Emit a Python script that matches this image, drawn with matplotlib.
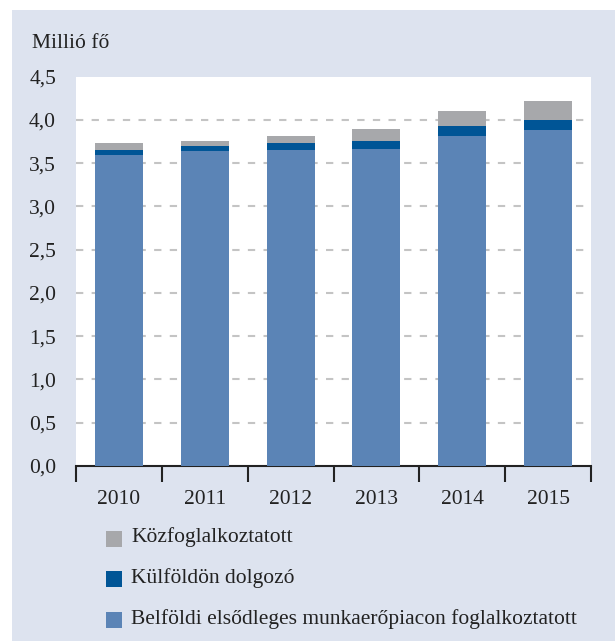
import matplotlib
matplotlib.use("Agg")
import matplotlib.pyplot as plt
from matplotlib.patches import Rectangle
import numpy as np

years = ["2010", "2011", "2012", "2013", "2014", "2015"]
belfoldi = [3.60, 3.64, 3.65, 3.66, 3.82, 3.88]
kulfoldon = [0.05, 0.06, 0.08, 0.095, 0.11, 0.12]
kozfogl = [0.08, 0.055, 0.09, 0.135, 0.17, 0.215]
yticks = [0.0, 0.5, 1.0, 1.5, 2.0, 2.5, 3.0, 3.5, 4.0, 4.5]
labels = ["Közfoglalkoztatott", "Külföldön dolgozó",
          "Belföldi elsődleges munkaerőpiacon foglalkoztatott"]

c_light = "#5b84b6"
c_dark = "#005596"
c_gray = "#a7a8ab"
bg = "#dde3ef"
txt = "#222222"
fs = 15.5

plt.rcParams['font.family'] = ['Liberation Serif', 'DejaVu Serif']

W, H = 615, 641
fig = plt.figure(figsize=(W / 100, H / 100), dpi=100)
fig.patch.set_facecolor("white")
fig.add_artist(Rectangle((12 / W, 0), 1 - 12 / W, 1 - 10 / H, transform=fig.transFigure,
                         facecolor=bg, edgecolor="none", zorder=-10))

ax = fig.add_axes([76 / W, 1 - 466 / H, (591 - 76) / W, (466 - 76.7) / H])
ax.set_facecolor("white")
x = np.arange(len(years))
b1 = np.array(belfoldi)
b2 = b1 + np.array(kulfoldon)
w = 0.56
ax.bar(x, belfoldi, width=w, color=c_light, zorder=3)
ax.bar(x, kulfoldon, bottom=b1, width=w, color=c_dark, zorder=3)
ax.bar(x, kozfogl, bottom=b2, width=w, color=c_gray, zorder=3)

ax.set_xlim(-0.5, len(years) - 0.5)
ax.set_ylim(0, 4.5)
ax.set_yticks(yticks)
ax.set_yticklabels([f"{v:.1f}".replace(".", ",") for v in yticks], fontsize=fs, color=txt)
ax.tick_params(axis="y", length=0, pad=14.4)
for v in yticks[1:-1]:
    ax.axhline(v, color="#c4c4c4", linewidth=1.5, dashes=(3.5, 4), zorder=1)

ax.set_xticks(x)
ax.set_xticklabels(years, fontsize=fs, color=txt)
ax.tick_params(axis="x", length=0, pad=17)
ax.set_xticks(np.arange(-0.5, len(years)), minor=True)
ax.tick_params(axis="x", which="minor", length=11.5, width=1.5, color=txt, direction="out")

for s in ["top", "right", "left"]:
    ax.spines[s].set_visible(False)
ax.spines["bottom"].set_linewidth(1.5)
ax.spines["bottom"].set_color(txt)

fig.text(32 / W, 1 - 43 / H, "Millió fő", fontsize=fs, color=txt, va="center", ha="left")

leg_colors = [c_gray, c_dark, c_light]
rows = [538.5, 579, 620]
for col, lab, yy in zip(leg_colors, labels, rows):
    fig.add_artist(Rectangle((106 / W, 1 - (yy + 8) / H), 16 / W, 16 / H,
                             transform=fig.transFigure, facecolor=col, edgecolor="none"))
    fig.text(131 / W, 1 - (yy - 1) / H, lab, fontsize=fs, color=txt, va="center", ha="left")

fig.savefig("out.png", dpi=100, facecolor=fig.get_facecolor())
